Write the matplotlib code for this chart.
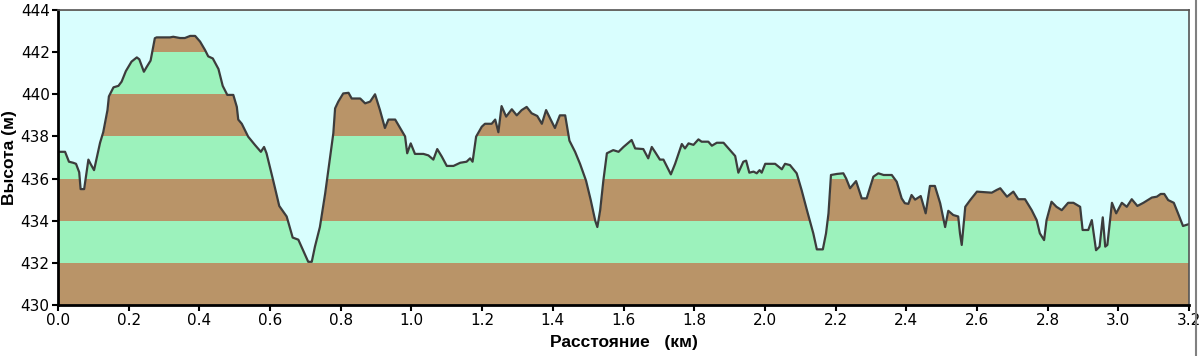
import numpy as np
import matplotlib.pyplot as plt
from matplotlib.ticker import FormatStrFormatter

# Профиль высот: расстояние (км) и высота (м)
dist_km = [0.000, 0.020, 0.031, 0.043, 0.051, 0.060, 0.064, 0.074, 0.086, 0.092,
           0.102, 0.119, 0.128, 0.140, 0.144, 0.157, 0.171, 0.180, 0.192, 0.208,
           0.223, 0.230, 0.243, 0.251, 0.262, 0.274, 0.279, 0.317, 0.326, 0.345,
           0.359, 0.374, 0.388, 0.402, 0.416, 0.425, 0.438, 0.454, 0.466, 0.479,
           0.496, 0.506, 0.510, 0.520, 0.538, 0.557, 0.574, 0.583, 0.590, 0.609,
           0.626, 0.647, 0.664, 0.680, 0.708, 0.718, 0.727, 0.741, 0.756, 0.770,
           0.779, 0.784, 0.793, 0.807, 0.822, 0.831, 0.855, 0.869, 0.883, 0.897,
           0.911, 0.925, 0.935, 0.954, 0.968, 0.982, 0.988, 0.998, 1.010, 1.034,
           1.048, 1.062, 1.073, 1.086, 1.100, 1.119, 1.138, 1.156, 1.166, 1.173,
           1.183, 1.199, 1.208, 1.227, 1.237, 1.246, 1.255, 1.268, 1.284, 1.298,
           1.312, 1.326, 1.340, 1.356, 1.369, 1.381, 1.394, 1.406, 1.420, 1.435,
           1.447, 1.463, 1.477, 1.494, 1.507, 1.520, 1.526, 1.534, 1.543, 1.553,
           1.571, 1.586, 1.600, 1.614, 1.623, 1.633, 1.656, 1.670, 1.680, 1.689,
           1.703, 1.713, 1.734, 1.746, 1.765, 1.774, 1.784, 1.798, 1.812, 1.821,
           1.840, 1.850, 1.864, 1.883, 1.897, 1.916, 1.925, 1.939, 1.947, 1.956,
           1.968, 1.977, 1.985, 1.991, 2.001, 2.029, 2.048, 2.057, 2.071, 2.090,
           2.104, 2.119, 2.137, 2.147, 2.164, 2.173, 2.180, 2.187, 2.204, 2.222,
           2.230, 2.241, 2.258, 2.274, 2.288, 2.300, 2.307, 2.321, 2.336, 2.359,
           2.373, 2.387, 2.396, 2.406, 2.415, 2.425, 2.441, 2.455, 2.467, 2.481,
           2.496, 2.510, 2.519, 2.533, 2.547, 2.552, 2.557, 2.567, 2.581, 2.600,
           2.642, 2.656, 2.666, 2.685, 2.703, 2.717, 2.736, 2.755, 2.769, 2.778,
           2.790, 2.797, 2.811, 2.825, 2.840, 2.858, 2.873, 2.892, 2.899, 2.915,
           2.925, 2.937, 2.947, 2.956, 2.963, 2.969, 2.982, 2.994, 3.010, 3.024,
           3.038, 3.054, 3.071, 3.095, 3.109, 3.120, 3.130, 3.141, 3.157, 3.169,
           3.183, 3.200]
elev_m = [437.27, 437.27, 436.80, 436.75, 436.70, 436.30, 435.50, 435.50, 436.90, 436.70,
          436.40, 437.70, 438.20, 439.25, 439.90, 440.33, 440.40, 440.60, 441.10, 441.55,
          441.75, 441.66, 441.07, 441.30, 441.60, 442.66, 442.70, 442.70, 442.73, 442.67,
          442.67, 442.77, 442.77, 442.50, 442.10, 441.80, 441.70, 441.20, 440.40, 439.97,
          439.97, 439.40, 438.80, 438.60, 437.99, 437.60, 437.27, 437.50, 437.20, 435.90,
          434.70, 434.20, 433.20, 433.10, 432.05, 432.05, 432.77, 433.70, 435.30, 437.04,
          438.15, 439.33, 439.65, 440.04, 440.07, 439.80, 439.80, 439.57, 439.65, 440.00,
          439.25, 438.40, 438.80, 438.80, 438.40, 438.00, 437.20, 437.67, 437.17, 437.17,
          437.10, 436.90, 437.40, 437.04, 436.60, 436.60, 436.75, 436.80, 436.96, 436.80,
          437.99, 438.46, 438.60, 438.60, 438.80, 438.20, 439.44, 438.94, 439.29, 439.00,
          439.25, 439.40, 439.10, 438.97, 438.60, 439.25, 438.80, 438.40, 439.00, 439.00,
          437.80, 437.27, 436.70, 435.90, 435.00, 434.00, 433.70, 434.50, 435.90, 437.20,
          437.35, 437.27, 437.50, 437.70, 437.83, 437.43, 437.40, 436.96, 437.50, 437.27,
          436.90, 436.90, 436.20, 436.70, 437.64, 437.43, 437.67, 437.60, 437.86, 437.75,
          437.75, 437.56, 437.70, 437.70, 437.43, 437.07, 436.28, 436.80, 436.85, 436.28,
          436.33, 436.25, 436.40, 436.28, 436.70, 436.70, 436.44, 436.70, 436.64, 436.25,
          435.45, 434.50, 433.40, 432.64, 432.64, 433.40, 434.35, 436.17, 436.22, 436.25,
          436.00, 435.54, 435.88, 435.06, 435.06, 435.70, 436.09, 436.25, 436.17, 436.17,
          435.85, 435.06, 434.83, 434.80, 435.22, 435.00, 435.17, 434.35, 435.65, 435.65,
          434.83, 433.70, 434.47, 434.27, 434.20, 433.40, 432.85, 434.66, 434.98, 435.38,
          435.33, 435.46, 435.54, 435.14, 435.38, 435.02, 435.02, 434.50, 434.03, 433.40,
          433.08, 434.03, 434.90, 434.66, 434.50, 434.85, 434.85, 434.66, 433.56, 433.56,
          434.03, 432.60, 432.77, 434.16, 432.77, 432.85, 434.85, 434.35, 434.85, 434.66,
          435.02, 434.70, 434.85, 435.10, 435.14, 435.27, 435.27, 434.98, 434.85, 434.35,
          433.75, 433.84]

band_edges = [430, 432, 434, 436, 438, 440, 442, 444]
band_colors = ['#b99468', '#9cf2bc']
sky = '#d9fefe'

x = np.array(dist_km)
y = np.array(elev_m)

fig = plt.figure(figsize=(12, 3.56), dpi=100)
ax = fig.add_axes([58 / 1200, 1 - 305 / 356, (1189 - 58) / 1200, 295 / 356])

# Полосы по 2 м на весь график, сверху закрываем небом выше профиля
for i in range(len(band_edges) - 1):
    ax.axhspan(band_edges[i], band_edges[i + 1], color=band_colors[i % 2], linewidth=0)
ax.fill_between(x, y, 444, color=sky, linewidth=0)
ax.plot(x, y, color='#3c3c3c', linewidth=1.6)

ax.set_xlim(0, 3.2)
ax.set_ylim(430, 444)
ax.set_xticks(np.arange(0, 3.21, 0.2))
ax.set_yticks(band_edges)
ax.xaxis.set_major_formatter(FormatStrFormatter('%.1f'))

for lab in ax.get_xticklabels() + ax.get_yticklabels():
    lab.set_family('DejaVu Sans')
    lab.set_fontsize(11)
ax.tick_params(direction='out', length=4, width=1.5, color='black', pad=2)

ax.spines['left'].set_linewidth(2)
ax.spines['bottom'].set_linewidth(2)
for side in ['top', 'right']:
    ax.spines[side].set_color('#555555')
    ax.spines[side].set_linewidth(1.2)

ax.set_xlabel('Расстояние   (км)', fontsize=12.5, fontweight='bold',
              family=['Liberation Sans', 'DejaVu Sans'], labelpad=5)
ax.set_ylabel('Высота (м)', fontsize=12.5, fontweight='bold',
              family=['Liberation Sans', 'DejaVu Sans'])
ax.yaxis.set_label_coords(-0.036, 0.5)

# Рамка окна справа
fig.add_artist(plt.Line2D([1196 / 1200, 1196 / 1200], [0, 1], color='#808080', linewidth=1.5))

plt.savefig('out.png', dpi=100, facecolor='white')
